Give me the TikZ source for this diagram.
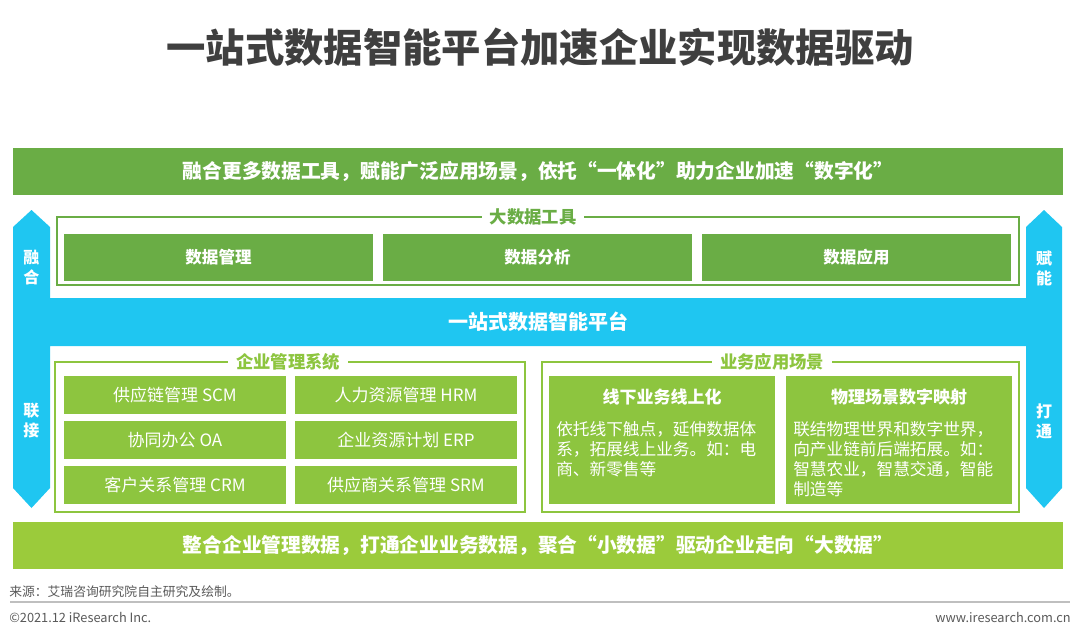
\documentclass[tikz,border=0pt]{standalone}
\usepackage{fontspec}
\setmainfont{Noto Sans CJK SC}
\definecolor{dkgreen}{HTML}{6AAD45}
\definecolor{skyblue}{HTML}{1FC6F1}
\definecolor{limeg}{HTML}{8DC53F}
\definecolor{ygreen}{HTML}{9BCB3B}
\definecolor{titlegray}{HTML}{3F3F3F}
\definecolor{footgray}{HTML}{595959}
\definecolor{rulegray}{HTML}{BFBFBF}
\tikzset{
  banner/.style={inner sep=0, minimum width=787.5pt, minimum height=35.25pt, text=white,
    font=\fontsize{14.8pt}{17pt}\selectfont\bfseries},
  toolbox/.style={fill=dkgreen, inner sep=0, minimum width=231.75pt, minimum height=35.25pt,
    text=white, font=\fontsize{12.4pt}{14pt}\selectfont\bfseries},
  entbox/.style={fill=limeg, inner sep=0, minimum width=166.5pt, minimum height=28.5pt,
    text=white, font=\fontsize{12.75pt}{15pt}\selectfont},
  bizbox/.style={fill=limeg, inner sep=0, minimum width=169.5pt, minimum height=96pt},
  biztitle/.style={inner sep=0, text=white, font=\fontsize{12.75pt}{15pt}\selectfont\bfseries},
  bizbody/.style={inner sep=0, anchor=north west, text width=165pt, align=left, text=white,
    font=\fontsize{12.5pt}{15pt}\selectfont},
  frametitle/.style={fill=white, inner xsep=6pt, inner ysep=1pt,
    font=\fontsize{13pt}{15pt}\selectfont\bfseries},
  sidelabel/.style={inner sep=0, align=center, text=white,
    font=\fontsize{12pt}{15pt}\selectfont\bfseries},
  foot/.style={inner sep=0, text=footgray, font=\fontsize{9.6pt}{11pt}\selectfont},
}
\begin{document}
\begin{tikzpicture}[x=0.75pt, y=-0.75pt]
\useasboundingbox (0,0) rectangle (1080,636);
% title
\node[inner sep=0, text=titlegray, font=\fontsize{29.5pt}{33pt}\selectfont\bfseries] (title) at (540,47) {一站式数据智能平台加速企业实现数据驱动};
% top banner
\node[banner, fill=dkgreen] (topbar) at (538,171.5) {融合更多数据工具，赋能广泛应用场景，依托“一体化”助力企业加速“数字化”};
% blue H shape
\path[fill=skyblue] (13,227) -- (31.5,210) -- (50,227) -- (50,298) -- (1026,298) -- (1026,227)
  -- (1044,210) -- (1062,227) -- (1062,488) -- (1044,508) -- (1026,488) -- (1026,346)
  -- (50,346) -- (50,488) -- (31.5,508) -- (13,488) -- cycle;
\node[inner sep=0, text=white, font=\fontsize{15pt}{17pt}\selectfont\bfseries] (platform) at (538,322) {一站式数据智能平台};
\node[sidelabel] (lab1) at (31.5,268) {融\\合};
\node[sidelabel] (lab2) at (31.5,421) {联\\接};
\node[sidelabel] (lab3) at (1044,268) {赋\\能};
\node[sidelabel] (lab4) at (1044,421) {打\\通};
% big data tools frame
\draw[dkgreen, line width=1.5pt] (57,217) rectangle (1019,285);
\node[frametitle, text=dkgreen] (tooltitle) at (533,217) {大数据工具};
\node[toolbox] (t1) at (218.5,257) {数据管理};
\node[toolbox] (t2) at (537.5,257) {数据分析};
\node[toolbox] (t3) at (856.5,257) {数据应用};
% enterprise management frame
\draw[limeg, line width=1.5pt] (55,362) rectangle (525,512);
\node[frametitle, text=limeg] (enttitle) at (288,362) {企业管理系统};
\node[entbox] (e1) at (175,395) {供应链管理 SCM};
\node[entbox] (e2) at (406,395) {人力资源管理 HRM};
\node[entbox] (e3) at (175,440) {协同办公 OA};
\node[entbox] (e4) at (406,440) {企业资源计划 ERP};
\node[entbox] (e5) at (175,485) {客户关系管理 CRM};
\node[entbox] (e6) at (406,485) {供应商关系管理 SRM};
% business scenario frame
\draw[limeg, line width=1.5pt] (542,362) rectangle (1019,512);
\node[frametitle, text=limeg] (biztitle) at (772,362) {业务应用场景};
\node[bizbox] (b1) at (662,440) {};
\node[bizbox] (b2) at (899,440) {};
\node[biztitle] (b1t) at (662,397) {线下业务线上化};
\node[biztitle] (b2t) at (899,397) {物理场景数字映射};
\node[bizbody] (b1b) at (556,421) {依托线下触点，延伸数据体\\系，拓展线上业务。如：电\\商、新零售等};
\node[bizbody] (b2b) at (793,421) {联结物理世界和数字世界，\\向产业链前后端拓展。如：\\智慧农业，智慧交通，智能\\制造等};
% bottom banner
\node[banner, fill=ygreen] (botbar) at (538,545.5) {整合企业管理数据，打通企业业务数据，聚合“小数据”驱动企业走向“大数据”};
% footer
\node[foot, anchor=west] (source) at (9,592) {来源：艾瑞咨询研究院自主研究及绘制。};
\coordinate (ruleL) at (10,602);
\coordinate (ruleR) at (1070,602);
\draw[rulegray, line width=1.3pt] (ruleL) -- (ruleR);
\node[foot, anchor=west] (copy) at (9,617) {©2021.12 iResearch Inc.};
\node[foot, anchor=east] (web) at (1071,617) {www.iresearch.com.cn};
\end{tikzpicture}
\end{document}
